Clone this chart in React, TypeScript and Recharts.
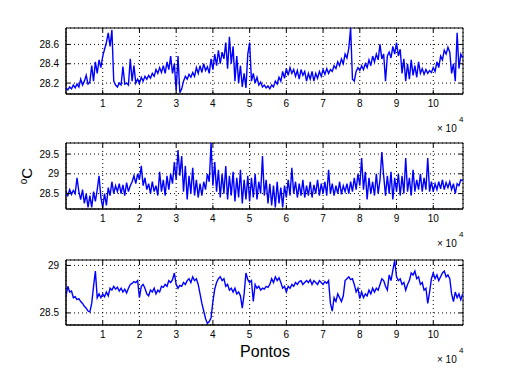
import React from 'react';
import {
  LineChart,
  Line,
  XAxis,
  YAxis,
  CartesianGrid,
  ReferenceArea,
} from 'recharts';

// sample spacing along "Pontos" (one value every 500 points)
const STEP = 500;
const X_MAX = 108100;
const X_TICKS = [10000, 20000, 30000, 40000, 50000, 60000, 70000, 80000, 90000, 100000];

const TOP_SERIES = [
  28.15, 28.13, 28.16, 28.14, 28.18, 28.15, 28.19, 28.16, 28.24, 28.18, 28.22, 28.28, 28.19, 28.21, 28.38, 28.22, 28.42, 28.30, 28.44, 28.36,
  28.48, 28.55, 28.62, 28.72, 28.58, 28.75, 28.22, 28.18, 28.16, 28.20, 28.18, 28.37, 28.19, 28.20, 28.18, 28.45, 28.22, 28.38, 28.20, 28.24,
  28.20, 28.26, 28.22, 28.27, 28.24, 28.28, 28.25, 28.30, 28.27, 28.34, 28.30, 28.36, 28.31, 28.38, 28.30, 28.42, 28.34, 28.48, 28.30, 28.40,
  28.12, 28.48, 28.10, 28.14, 28.22, 28.27, 28.24, 28.29, 28.26, 28.31, 28.27, 28.36, 28.30, 28.38, 28.31, 28.40, 28.33, 28.37, 28.30, 28.45,
  28.34, 28.50, 28.38, 28.54, 28.40, 28.52, 28.45, 28.62, 28.35, 28.68, 28.40, 28.58, 28.22, 28.48, 28.20, 28.38, 28.16, 28.30, 28.15, 28.50,
  28.62, 28.22, 28.30, 28.20, 28.26, 28.18, 28.21, 28.16, 28.18, 28.15, 28.17, 28.14, 28.18, 28.16, 28.22, 28.19, 28.26, 28.22, 28.32, 28.25,
  28.35, 28.28, 28.36, 28.30, 28.34, 28.27, 28.33, 28.24, 28.34, 28.28, 28.32, 28.22, 28.30, 28.24, 28.32, 28.22, 28.30, 28.25, 28.32, 28.27,
  28.34, 28.29, 28.35, 28.30, 28.34, 28.32, 28.38, 28.35, 28.42, 28.38, 28.45, 28.40, 28.50, 28.46, 28.56, 28.77, 28.24, 28.22, 28.32, 28.36,
  28.33, 28.38, 28.34, 28.40, 28.36, 28.44, 28.38, 28.48, 28.42, 28.50, 28.44, 28.60, 28.45, 28.50, 28.22, 28.48, 28.52, 28.46, 28.58, 28.50,
  28.62, 28.48, 28.55, 28.30, 28.45, 28.22, 28.40, 28.24, 28.44, 28.28, 28.38, 28.26, 28.42, 28.30, 28.35, 28.29, 28.34, 28.30, 28.33, 28.31,
  28.36, 28.32, 28.42, 28.36, 28.48, 28.44, 28.54, 28.50, 28.57, 28.52, 28.30, 28.40, 28.22, 28.72, 28.35, 28.50, 28.46,
];

const MID_SERIES = [
  28.55, 28.45, 28.60, 28.48, 28.58, 28.50, 28.90, 28.55, 28.35, 28.60, 28.25, 28.50, 28.15, 28.45, 28.15, 28.55, 28.30, 28.60, 28.95, 28.40,
  28.15, 28.50, 28.20, 28.65, 28.45, 28.80, 28.50, 28.70, 28.55, 28.75, 28.50, 28.72, 28.45, 28.78, 28.55, 28.70, 28.80, 28.95, 28.75, 29.00,
  28.85, 29.20, 28.70, 28.90, 28.60, 28.75, 28.50, 28.80, 28.55, 28.70, 28.45, 29.05, 28.55, 28.85, 28.45, 28.95, 28.60, 29.00, 28.75, 29.30,
  28.85, 29.60, 28.95, 29.45, 28.55, 29.20, 28.35, 28.95, 28.50, 29.15, 28.45, 28.85, 28.40, 28.75, 28.45, 28.80, 28.60, 29.00, 28.80, 29.78,
  28.70, 29.30, 28.55, 29.10, 28.40, 29.00, 28.50, 29.20, 28.35, 28.95, 28.45, 29.05, 28.30, 28.90, 28.40, 29.10, 28.25, 28.85, 28.35, 28.95,
  28.30, 28.90, 28.40, 29.00, 28.35, 28.80, 28.50, 29.45, 28.45, 28.85, 28.25, 28.75, 28.20, 28.70, 28.15, 28.80, 28.25, 28.65, 28.15, 28.70,
  28.40, 28.85, 28.45, 29.15, 28.50, 28.80, 28.40, 28.75, 28.45, 28.85, 28.40, 28.70, 28.45, 28.80, 28.40, 28.72, 28.50, 28.85, 28.45, 28.75,
  28.50, 28.80, 28.45, 29.10, 28.50, 28.75, 28.45, 28.70, 28.50, 28.80, 28.48, 28.70, 28.55, 28.75, 28.50, 28.80, 28.55, 28.90, 28.60, 29.00,
  28.70, 29.40, 28.60, 29.05, 28.35, 28.90, 28.50, 28.80, 28.45, 29.00, 28.50, 28.85, 29.55, 28.95, 28.45, 28.95, 28.50, 29.05, 28.35, 28.90,
  28.55, 29.00, 28.45, 28.95, 28.50, 29.40, 28.55, 28.90, 28.45, 29.10, 28.55, 28.85, 28.60, 29.00, 28.55, 28.90, 28.60, 29.40, 28.55, 28.80,
  28.55, 28.75, 28.60, 28.80, 28.62, 28.85, 28.60, 28.78, 28.65, 28.80, 28.60, 28.75, 28.50, 28.75, 28.70, 28.85, 28.82,
];

const LOW_SERIES = [
  28.68, 28.78, 28.72, 28.73, 28.66, 28.67, 28.64, 28.65, 28.62, 28.60, 28.57, 28.55, 28.52, 28.51, 28.60, 28.78, 28.94, 28.66, 28.70, 28.66,
  28.70, 28.67, 28.72, 28.68, 28.76, 28.74, 28.78, 28.75, 28.77, 28.73, 28.76, 28.72, 28.75, 28.71, 28.76, 28.80, 28.81, 28.83, 28.82, 28.84,
  28.66, 28.78, 28.80, 28.76, 28.70, 28.68, 28.74, 28.72, 28.76, 28.70, 28.74, 28.72, 28.78, 28.77, 28.80, 28.78, 28.84, 28.82, 28.85, 28.92,
  28.80, 28.76, 28.79, 28.78, 28.82, 28.80, 28.84, 28.86, 28.82, 28.88, 28.84, 28.86, 28.80, 28.70, 28.60, 28.52, 28.44, 28.39, 28.41, 28.45,
  28.62, 28.75, 28.82, 28.86, 28.88, 28.84, 28.86, 28.78, 28.80, 28.74, 28.76, 28.72, 28.76, 28.70, 28.72, 28.68, 28.55, 28.70, 28.92, 28.85,
  28.82, 28.84, 28.62, 28.80, 28.76, 28.78, 28.74, 28.76, 28.75, 28.78, 28.77, 28.80, 28.86, 28.82, 28.88, 28.84, 28.87, 28.82, 28.76, 28.78,
  28.72, 28.78, 28.76, 28.80, 28.78, 28.82, 28.80, 28.83, 28.84, 28.80, 28.82, 28.84, 28.82, 28.85, 28.80, 28.84, 28.82, 28.80, 28.84, 28.82,
  28.80, 28.83, 28.81, 28.84, 28.60, 28.52, 28.66, 28.62, 28.70, 28.66, 28.62, 28.68, 28.84, 28.86, 28.88, 28.85, 28.86, 28.80, 28.72, 28.76,
  28.65, 28.72, 28.66, 28.70, 28.68, 28.74, 28.70, 28.76, 28.72, 28.76, 28.74, 28.80, 28.86, 28.84, 28.78, 28.74, 28.90, 28.84, 28.95, 29.05,
  28.88, 28.84, 28.86, 28.80, 28.82, 28.74, 28.80, 28.84, 28.92, 28.90, 28.94, 28.86, 28.88, 28.80, 28.82, 28.74, 28.76, 28.60, 28.72, 28.86,
  28.92, 28.86, 28.90, 28.84, 28.88, 28.92, 28.94, 28.88, 28.90, 28.86, 28.70, 28.62, 28.72, 28.66, 28.70, 28.64, 28.70,
];

const TOP_TICKS = [28.2, 28.4, 28.6];
const MID_TICKS = [28.5, 29, 29.5];
const LOW_TICKS = [28.5, 29];

const FONT = '"Liberation Sans", Arial, Helvetica, sans-serif';
const PAD = 6;
const LEFT = 66;
const RIGHT = 463;

interface PanelProps {
  values: number[];
  domain: [number, number];
  yTicks: number[];
  top: number;
  plotH: number;
}

function Panel({ values, domain, yTicks, top, plotH }: PanelProps) {
  const data = values.map((y, i) => ({ x: i * STEP, y }));
  const bottom = PAD + plotH;

  const xTick = (props: any) => {
    const { x, payload } = props;
    return (
      <g>
        <line x1={x} x2={x} y1={bottom} y2={bottom - 4} stroke="#000" />
        <line x1={x} x2={x} y1={PAD} y2={PAD + 4} stroke="#000" />
        <text x={x} y={bottom + 12.5} textAnchor="middle" fontSize={10} fontFamily={FONT} fill="#000">
          {payload.value / 10000}
        </text>
      </g>
    );
  };

  const yTick = (props: any) => {
    const { y, payload } = props;
    return (
      <g>
        <line x1={LEFT} x2={LEFT + 4} y1={y} y2={y} stroke="#000" />
        <line x1={RIGHT} x2={RIGHT - 4} y1={y} y2={y} stroke="#000" />
        <text x={LEFT - 7} y={y + 3.5} textAnchor="end" fontSize={10} fontFamily={FONT} fill="#000">
          {String(payload.value)}
        </text>
      </g>
    );
  };

  return (
    <div style={{ position: 'absolute', left: 0, top: top - PAD }}>
      <LineChart
        width={512}
        height={PAD + plotH + 25}
        data={data}
        margin={{ top: PAD, right: 512 - RIGHT, bottom: 0, left: 0 }}
      >
        <CartesianGrid stroke="#000" strokeDasharray="1 3" />
        <XAxis
          dataKey="x"
          type="number"
          domain={[0, X_MAX]}
          ticks={X_TICKS}
          interval={0}
          allowDataOverflow
          height={25}
          axisLine={{ stroke: '#000' }}
          tickLine={false}
          tick={xTick}
        />
        <YAxis
          type="number"
          domain={domain}
          ticks={yTicks}
          interval={0}
          allowDataOverflow
          width={LEFT}
          axisLine={{ stroke: '#000' }}
          tickLine={false}
          tick={yTick}
        />
        <Line
          type="linear"
          dataKey="y"
          stroke="#0000ff"
          strokeWidth={1.4}
          dot={false}
          isAnimationActive={false}
        />
        <ReferenceArea
          x1={0}
          x2={X_MAX}
          y1={domain[0]}
          y2={domain[1]}
          fill="none"
          stroke="#000"
          strokeOpacity={1}
          ifOverflow="visible"
        />
      </LineChart>
    </div>
  );
}

function TimesTen({ base }: { base: number }) {
  return (
    <g>
      <text x={437} y={base + 37.5} fontSize={10} fontFamily={FONT} fill="#000">× 10</text>
      <text x={459} y={base + 28} fontSize={8} fontFamily={FONT} fill="#000">4</text>
    </g>
  );
}

export default function App() {
  return (
    <div style={{ position: 'fixed', left: 0, top: 0, width: 512, height: 385, background: '#fff' }}>
      <Panel values={TOP_SERIES} domain={[28.087, 28.77]} yTicks={TOP_TICKS} top={28} plotH={66} />
      <Panel values={MID_SERIES} domain={[28.11, 29.78]} yTicks={MID_TICKS} top={143} plotH={66} />
      <Panel values={LOW_SERIES} domain={[28.373, 29.057]} yTicks={LOW_TICKS} top={260} plotH={65} />
      <svg
        width={512}
        height={385}
        style={{ position: 'absolute', left: 0, top: 0, pointerEvents: 'none' }}
      >
        <TimesTen base={94} />
        <TimesTen base={209} />
        <TimesTen base={325} />
        <text x={265} y={357} textAnchor="middle" fontSize={16} fontFamily={FONT} fill="#000">
          Pontos
        </text>
        <text
          x={31.5}
          y={176}
          textAnchor="middle"
          fontFamily={FONT}
          fill="#000"
          transform="rotate(-90 31.5 176)"
        >
          <tspan fontSize={10} dy={-5}>o</tspan>
          <tspan fontSize={15} dy={5}>C</tspan>
        </text>
      </svg>
    </div>
  );
}
